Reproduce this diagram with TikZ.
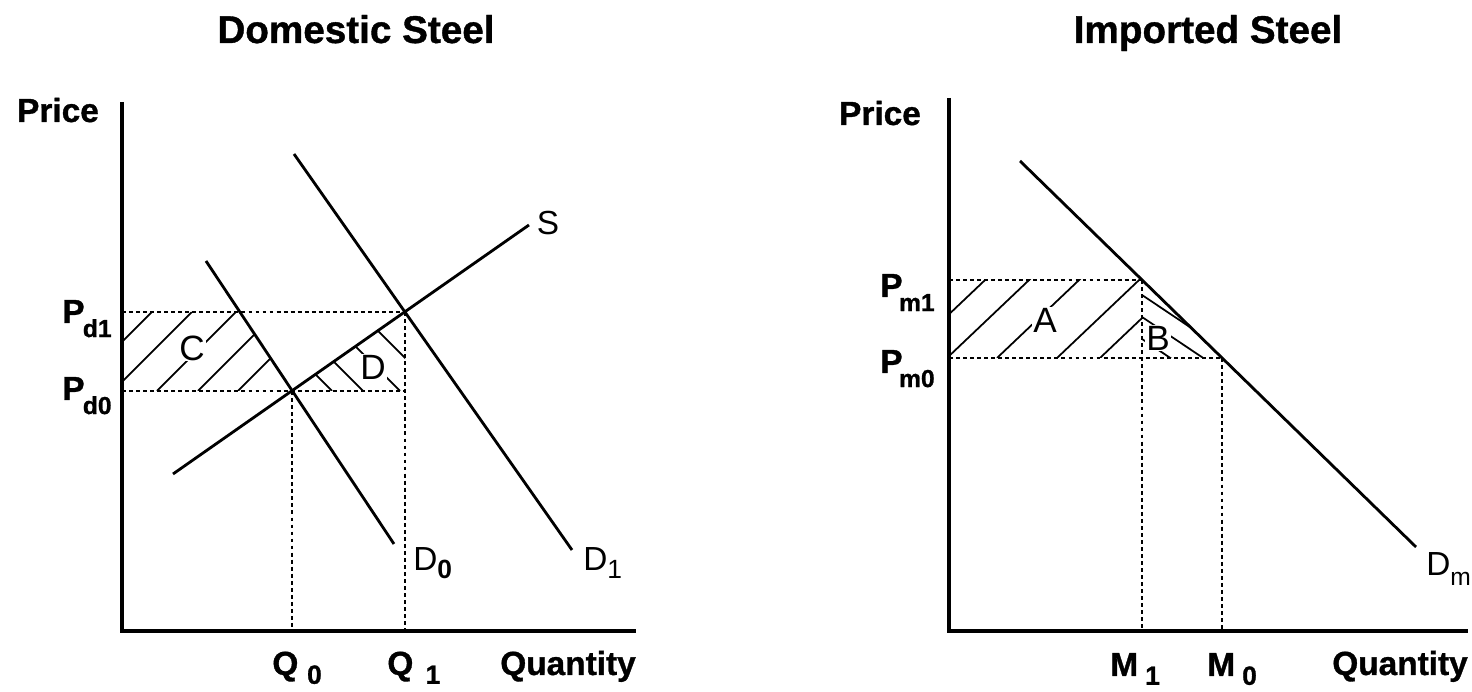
\documentclass[tikz,border=0pt]{standalone}
\usepackage{fontspec}
\setmainfont{Liberation Sans}
\newfontfamily\heavyfont[FakeBold=1]{Liberation Sans}

\begin{document}
\begin{tikzpicture}[scale=2,
    axis/.style={line width=1.8pt},
    curve/.style={line width=1.6pt},
    guide/.style={line width=1pt, dash pattern=on 2.2pt off 1.8pt},
    hatch/.style={line width=1pt},
    title/.style={font=\fontsize{22}{24}\heavyfont\bfseries, anchor=base},
    axlabel/.style={font=\fontsize{19}{22}\heavyfont\bfseries, inner sep=0pt},
    curvelabel/.style={font=\fontsize{19}{22}\selectfont, inner sep=0pt, anchor=base west},
    arealabel/.style={font=\fontsize{20}{22}\selectfont, fill=white, inner sep=0.5pt}
]
\useasboundingbox (0,0) rectangle (14.72,6.92);

% -------- Domestic steel --------
\coordinate (O1) at (1.22,0.61);
\coordinate (Ytop1) at (1.22,5.90);
\coordinate (Xend1) at (6.36,0.61);
\coordinate (E0) at (2.92,3.01); % S x D0
\coordinate (E1) at (4.05,3.80); % S x D1
\coordinate (Pd1) at (1.22,3.80);
\coordinate (Pd0) at (1.22,3.01);
\coordinate (Q0) at (2.92,0.61);
\coordinate (Q1) at (4.05,0.61);
\coordinate (Dcorner) at (4.05,3.01);
\coordinate (Cedge) at (2.40,3.80); % D0 at Pd1
\coordinate (Sa) at (1.73,2.18);
\coordinate (Sb) at (5.29,4.67);
\coordinate (D0a) at (2.06,4.31);
\coordinate (D0b) at (3.94,1.48);
\coordinate (D1a) at (2.94,5.38);
\coordinate (D1b) at (5.72,1.42);

% hatching C
\begin{scope}
\clip (Pd1) -- (Cedge) -- (E0) -- (Pd0) -- cycle;
\draw[hatch] (0.73,3.01) -- ++(1,1);
\draw[hatch] (1.13,3.01) -- ++(1,1);
\draw[hatch] (1.57,3.01) -- ++(1,1);
\draw[hatch] (1.98,3.01) -- ++(1,1);
\draw[hatch] (2.38,3.01) -- ++(1,1);
\end{scope}

% hatching D
\begin{scope}
\clip (E0) -- (E1) -- (Dcorner) -- cycle;
\draw[hatch] (3.32,3.01) -- ++(-1,1);
\draw[hatch] (3.63,3.01) -- ++(-1,1);
\draw[hatch] (4.00,3.01) -- ++(-1,1);
\draw[hatch] (4.38,3.01) -- ++(-1,1);
\end{scope}

\draw[guide] (Pd1) -- (E1);
\draw[guide] (Pd0) -- (Dcorner);
\draw[guide] (E0) -- (Q0);
\draw[guide] (E1) -- (Q1);

\draw[curve] (Sa) -- (Sb);
\draw[curve] (D0a) -- (D0b);
\draw[curve] (D1a) -- (D1b);
\draw[axis] (Ytop1) -- (O1) -- (Xend1);

\node[title] (t1) at (3.56,6.49) {Domestic Steel};
\node[axlabel, anchor=base] (price1) at (0.58,5.70) {Price};
\node[axlabel, anchor=base] (qty1) at (5.68,0.17) {Quantity};
\node[axlabel, anchor=base west] (lq0) at (2.72,0.17) {Q\hspace{5pt}\raisebox{-5pt}{\fontsize{15}{15}\selectfont 0}};
\node[axlabel, anchor=base west] (lq1) at (3.87,0.17) {Q\hspace{7pt}\raisebox{-5pt}{\fontsize{15}{15}\selectfont 1}};
\node[axlabel, anchor=base west] (lpd1) at (0.62,3.69) {P\hspace{-1pt}\raisebox{-8pt}{\fontsize{14}{14}\selectfont d1}};
\node[axlabel, anchor=base west] (lpd0) at (0.62,2.92) {P\hspace{-1pt}\raisebox{-8pt}{\fontsize{14}{14}\selectfont d0}};
\node[curvelabel, anchor=base] (ls) at (5.48,4.57) {S};
\node[curvelabel] (ld0) at (4.13,1.21) {D\raisebox{-4.5pt}{\fontsize{15}{15}\selectfont\bfseries 0}};
\node[curvelabel] (ld1) at (5.83,1.21) {D\raisebox{-4.5pt}{\fontsize{15}{15}\selectfont 1}};
\node[arealabel] (lc) at (1.92,3.44) {C};
\node[arealabel] (ld) at (3.73,3.25) {D};

% -------- Imported steel --------
\coordinate (O2) at (9.49,0.61);
\coordinate (Ytop2) at (9.49,5.94);
\coordinate (Xend2) at (14.68,0.61);
\coordinate (F1) at (11.42,4.12); % Dm at Pm1
\coordinate (F0) at (12.22,3.34); % Dm at Pm0
\coordinate (Pm1) at (9.49,4.12);
\coordinate (Pm0) at (9.49,3.34);
\coordinate (M1) at (11.42,0.61);
\coordinate (M0) at (12.22,0.61);
\coordinate (Bcorner) at (11.42,3.34);
\coordinate (Dma) at (10.20,5.31);
\coordinate (Dmb) at (14.16,1.45);

% hatching A
\begin{scope}
\clip (Pm0) rectangle (F1);
\draw[hatch] (9.03,3.34) -- ++(1,0.95);
\draw[hatch] (9.47,3.34) -- ++(1,0.95);
\draw[hatch] (9.97,3.34) -- ++(1,0.95);
\draw[hatch] (10.57,3.34) -- ++(1,0.95);
\draw[hatch] (11.00,3.34) -- ++(1,0.95);
\end{scope}

% hatching B
\begin{scope}
\clip (F1) -- (F0) -- (Bcorner) -- cycle;
\draw[hatch] (11.42,3.97) -- ++(1,-0.67);
\draw[hatch] (11.42,3.75) -- ++(1,-0.67);
\draw[hatch] (11.42,3.53) -- ++(1,-0.67);
\end{scope}

\draw[guide] (Pm1) -- (F1);
\draw[guide] (Pm0) -- (F0);
\draw[guide] (F1) -- (M1);
\draw[guide] (F0) -- (M0);

\draw[curve] (Dma) -- (Dmb);
\draw[axis] (Ytop2) -- (O2) -- (Xend2);

\node[title] (t2) at (12.08,6.49) {Imported Steel};
\node[axlabel, anchor=base] (price2) at (8.80,5.67) {Price};
\node[axlabel, anchor=base] (qty2) at (14.00,0.17) {Quantity};
\node[axlabel, anchor=base west] (lm1) at (11.10,0.16) {M\hspace{4pt}\raisebox{-5pt}{\fontsize{15}{15}\selectfont 1}};
\node[axlabel, anchor=base west] (lm0) at (12.07,0.16) {M\hspace{4pt}\raisebox{-5pt}{\fontsize{15}{15}\selectfont 0}};
\node[axlabel, anchor=base west] (lpm1) at (8.80,3.95) {P\hspace{-2pt}\raisebox{-8pt}{\fontsize{14}{14}\selectfont m1}};
\node[axlabel, anchor=base west] (lpm0) at (8.80,3.19) {P\hspace{-2pt}\raisebox{-8pt}{\fontsize{14}{14}\selectfont m0}};
\node[curvelabel] (ldm) at (14.26,1.16) {D\raisebox{-5.5pt}{\fontsize{14}{14}\selectfont m}};
\node[arealabel] (la) at (10.45,3.72) {A};
\node[arealabel] (lb) at (11.58,3.54) {B};
\end{tikzpicture}
\end{document}
